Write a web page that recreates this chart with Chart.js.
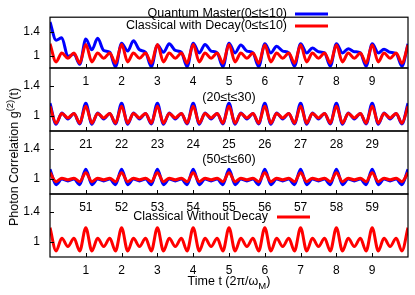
<!DOCTYPE html>
<html><head><meta charset="utf-8">
<script src="https://cdn.jsdelivr.net/npm/chart.js@4/dist/chart.umd.min.js"></script>
<style>
body{margin:0;background:#fff;width:415px;height:295px;overflow:hidden;position:relative;font-family:"Liberation Sans",Arial,sans-serif;color:#000;}
canvas{position:absolute;left:0;top:0;}
.title{position:absolute;font-size:12.5px;white-space:nowrap;line-height:14px;}
#xt{left:229px;top:281px;transform:translate(-50%,-50%);}
#yt{left:14px;top:157px;transform:translate(-50%,-50%) rotate(-90deg);}
sup,sub{font-size:9.5px;line-height:0;}
</style></head><body>
<canvas id="c0" width="415" height="295"></canvas>
<canvas id="c1" width="415" height="295"></canvas>
<canvas id="c2" width="415" height="295"></canvas>
<canvas id="c3" width="415" height="295"></canvas>
<div class="title" id="xt">Time t (2π/ω<sub>M</sub>)</div>
<div class="title" id="yt">Photon Correlation g<sup>(2)</sup>(t)</div>
<script>
// time within each 10-unit window (extrema of the curves)
const times = [
 0,0.17,0.33,0.5,0.67,0.83, 1,1.17,1.33,1.5,1.67,1.83, 2,2.17,2.33,2.5,2.67,2.83,
 3,3.17,3.33,3.5,3.67,3.83, 4,4.17,4.33,4.5,4.67,4.83, 5,5.17,5.33,5.5,5.67,5.83,
 6,6.17,6.33,6.5,6.67,6.83, 7,7.17,7.33,7.5,7.67,7.83, 8,8.17,8.33,8.5,8.67,8.83,
 9,9.17,9.33,9.5,9.67,9.83, 10];
const windowStart = [0, 20, 50, 0];

// panel 1 (0<=t<=10)
const quantum1 = [
 1.56,1.26,1.30,0.99,1.03,0.86, 1.28,1.10,1.29,1.09,1.06,0.82, 1.21,1.08,1.25,1.10,1.06,0.82,
 1.18,1.06,1.20,1.09,1.06,0.82, 1.21,1.05,1.19,1.08,1.05,0.82, 1.21,1.05,1.18,1.08,1.05,0.82,
 1.20,1.05,1.16,1.08,1.05,0.83, 1.20,1.05,1.13,1.07,1.05,0.83, 1.20,1.05,1.12,1.07,1.05,0.83,
 1.20,1.05,1.11,1.06,1.04,0.83, 1.20];
const classical1 = [
 1.20,0.90,1.05,0.96,1.05,0.88, 1.19,0.90,1.05,0.96,1.05,0.88, 1.19,0.90,1.05,0.96,1.05,0.88,
 1.19,0.90,1.05,0.96,1.05,0.88, 1.19,0.90,1.05,0.96,1.05,0.88, 1.19,0.90,1.05,0.96,1.05,0.88,
 1.18,0.90,1.05,0.96,1.05,0.88, 1.18,0.90,1.05,0.96,1.05,0.88, 1.18,0.90,1.05,0.96,1.05,0.88,
 1.18,0.90,1.05,0.96,1.05,0.88, 1.18];
// panel 2 (20<=t<=30)
const quantum2 = [
 1.17,0.89,1.04,0.96,1.035,0.895, 1.17,0.89,1.04,0.96,1.035,0.895, 1.17,0.89,1.04,0.96,1.035,0.895,
 1.17,0.89,1.04,0.96,1.035,0.895, 1.17,0.89,1.04,0.96,1.035,0.895, 1.17,0.89,1.04,0.96,1.035,0.895,
 1.17,0.89,1.04,0.96,1.035,0.895, 1.17,0.89,1.04,0.96,1.035,0.895, 1.17,0.89,1.04,0.96,1.035,0.895,
 1.17,0.89,1.04,0.96,1.035,0.895, 1.17];
const classical2 = [
 1.13,0.905,1.035,0.975,1.035,0.905, 1.13,0.905,1.035,0.975,1.035,0.905, 1.13,0.905,1.035,0.975,1.035,0.905,
 1.13,0.905,1.035,0.975,1.035,0.905, 1.13,0.905,1.035,0.975,1.035,0.905, 1.13,0.905,1.035,0.975,1.035,0.905,
 1.13,0.905,1.035,0.975,1.035,0.905, 1.13,0.905,1.035,0.975,1.035,0.905, 1.13,0.905,1.035,0.975,1.035,0.905,
 1.13,0.905,1.035,0.975,1.035,0.905, 1.13];
// panel 3 (50<=t<=60)
const quantum3 = [
 1.13,0.925,1.00,0.975,1.00,0.925, 1.13,0.925,1.00,0.975,1.00,0.925, 1.13,0.925,1.00,0.975,1.00,0.925,
 1.13,0.925,1.00,0.975,1.00,0.925, 1.13,0.925,1.00,0.975,1.00,0.925, 1.13,0.925,1.00,0.975,1.00,0.925,
 1.13,0.925,1.00,0.975,1.00,0.925, 1.13,0.925,1.00,0.975,1.00,0.925, 1.13,0.925,1.00,0.975,1.00,0.925,
 1.13,0.925,1.00,0.975,1.00,0.925, 1.13];
const classical3 = [
 1.085,0.965,1.01,0.99,1.01,0.965, 1.085,0.965,1.01,0.99,1.01,0.965, 1.085,0.965,1.01,0.99,1.01,0.965,
 1.085,0.965,1.01,0.99,1.01,0.965, 1.085,0.965,1.01,0.99,1.01,0.965, 1.085,0.965,1.01,0.99,1.01,0.965,
 1.085,0.965,1.01,0.99,1.01,0.965, 1.085,0.965,1.01,0.99,1.01,0.965, 1.085,0.965,1.01,0.99,1.01,0.965,
 1.085,0.965,1.01,0.99,1.01,0.965, 1.085];
// panel 4 (classical without decay, 0<=t<=10)
const classical4 = [
 1.19,0.88,1.05,0.94,1.05,0.88, 1.19,0.88,1.05,0.94,1.05,0.88, 1.19,0.88,1.05,0.94,1.05,0.88,
 1.19,0.88,1.05,0.94,1.05,0.88, 1.19,0.88,1.05,0.94,1.05,0.88, 1.19,0.88,1.05,0.94,1.05,0.88,
 1.19,0.88,1.05,0.94,1.05,0.88, 1.19,0.88,1.05,0.94,1.05,0.88, 1.19,0.88,1.05,0.94,1.05,0.88,
 1.19,0.88,1.05,0.94,1.05,0.88, 1.19];

const xTicks = [
 [1,2,3,4,5,6,7,8,9],
 [21,22,23,24,25,26,27,28,29],
 [51,52,53,54,55,56,57,58,59],
 [1,2,3,4,5,6,7,8,9]];
const yTicks = [1, 1.4];
const yTickLabels = ["1", "1.4"];

const labelQuantum = "Quantum Master(0≤t≤10)";
const labelDecay = "Classical with Decay(0≤t≤10)";
const labelNoDecay = "Classical Without Decay";
const label20 = "(20≤t≤30)";
const label50 = "(50≤t≤60)";

const BLUE = '#0000ff', RED = '#ff0000';
const panelTop = [5, 68, 131, 194];
const panelBottom = [68, 131, 194, 257];
const X_AXIS_H = 20;
const FONT = '"Liberation Sans", Arial, sans-serif';

const panels = [
 {series:[[classical1, RED],[quantum1, BLUE]], notes:[
   {text:labelQuantum, x:287, y:14, align:'right', line:[295,328], color:BLUE},
   {text:labelDecay, x:287, y:26, align:'right', line:[295,328], color:RED}]},
 {series:[[classical2, RED],[quantum2, BLUE]], notes:[{text:label20, x:229, y:98, align:'center'}]},
 {series:[[classical3, RED],[quantum3, BLUE]], notes:[{text:label50, x:229, y:160, align:'center'}]},
 {series:[[classical4, RED]], notes:[
   {text:labelNoDecay, x:268, y:217, align:'right', line:[277,310], color:RED}]}
];

const framePlugin = {
  id:'frame',
  afterDraw(chart, args, opts){
    const {ctx, chartArea:a, scales} = chart;
    ctx.save();
    ctx.strokeStyle = '#000';
    ctx.lineWidth = 1.2;
    ctx.strokeRect(a.left, a.top, a.right - a.left, a.bottom - a.top);
    ctx.beginPath();
    scales.x.ticks.forEach(t => {
      const px = Math.round(scales.x.getPixelForValue(t.value)) + 0.5;
      ctx.moveTo(px, a.bottom); ctx.lineTo(px, a.bottom - 4);
    });
    scales.y.ticks.forEach(t => {
      const py = Math.round(scales.y.getPixelForValue(t.value)) + 0.5;
      ctx.moveTo(a.left, py); ctx.lineTo(a.left + 4, py);
    });
    ctx.lineWidth = 1;
    ctx.stroke();
    ctx.font = '12.5px ' + FONT;
    ctx.fillStyle = '#000';
    ctx.textBaseline = 'middle';
    (opts.notes || []).forEach(n => {
      ctx.textAlign = n.align;
      ctx.fillText(n.text, n.x, n.y);
      if (n.line) {
        ctx.beginPath();
        ctx.strokeStyle = n.color;
        ctx.lineWidth = 3;
        ctx.moveTo(n.line[0], n.y); ctx.lineTo(n.line[1], n.y);
        ctx.stroke();
      }
    });
    ctx.restore();
  }
};

panels.forEach((p, i) => {
  const start = windowStart[i];
  new Chart(document.getElementById('c' + i), {
    type: 'line',
    data: {
      datasets: p.series.map(([vals, color]) => ({
        data: times.map((t, k) => ({x: start + t, y: vals[k]})),
        borderColor: color,
        borderWidth: 3,
        pointRadius: 0,
        fill: false,
        cubicInterpolationMode: 'monotone'
      }))
    },
    options: {
      responsive: false,
      animation: false,
      devicePixelRatio: 1,
      events: [],
      layout: {autoPadding: false, padding: {left: 0, right: 7, top: panelTop[i], bottom: 295 - panelBottom[i] - X_AXIS_H}},
      plugins: {legend: {display: false}, tooltip: {enabled: false}, frame: {notes: p.notes}},
      scales: {
        x: {
          type: 'linear', min: start, max: start + 10,
          afterBuildTicks: ax => { ax.ticks = xTicks[i].map(v => ({value: v})); },
          afterFit: ax => { ax.height = X_AXIS_H; },
          grid: {display: false, drawTicks: false},
          border: {display: false},
          ticks: {color: '#000', padding: 6, maxRotation: 0, autoSkip: false,
                  font: {family: FONT, size: 12}}
        },
        y: {
          type: 'linear', min: 0.8, max: 1.64,
          afterBuildTicks: ax => { ax.ticks = yTicks.map(v => ({value: v})); },
          afterFit: ax => { ax.width = 50; },
          grid: {display: false, drawTicks: false},
          border: {display: false},
          ticks: {color: '#000', padding: 10,
                  callback: (v, idx) => yTickLabels[idx],
                  font: {family: FONT, size: 12}}
        }
      }
    },
    plugins: [framePlugin]
  });
});
</script>
</body></html>
